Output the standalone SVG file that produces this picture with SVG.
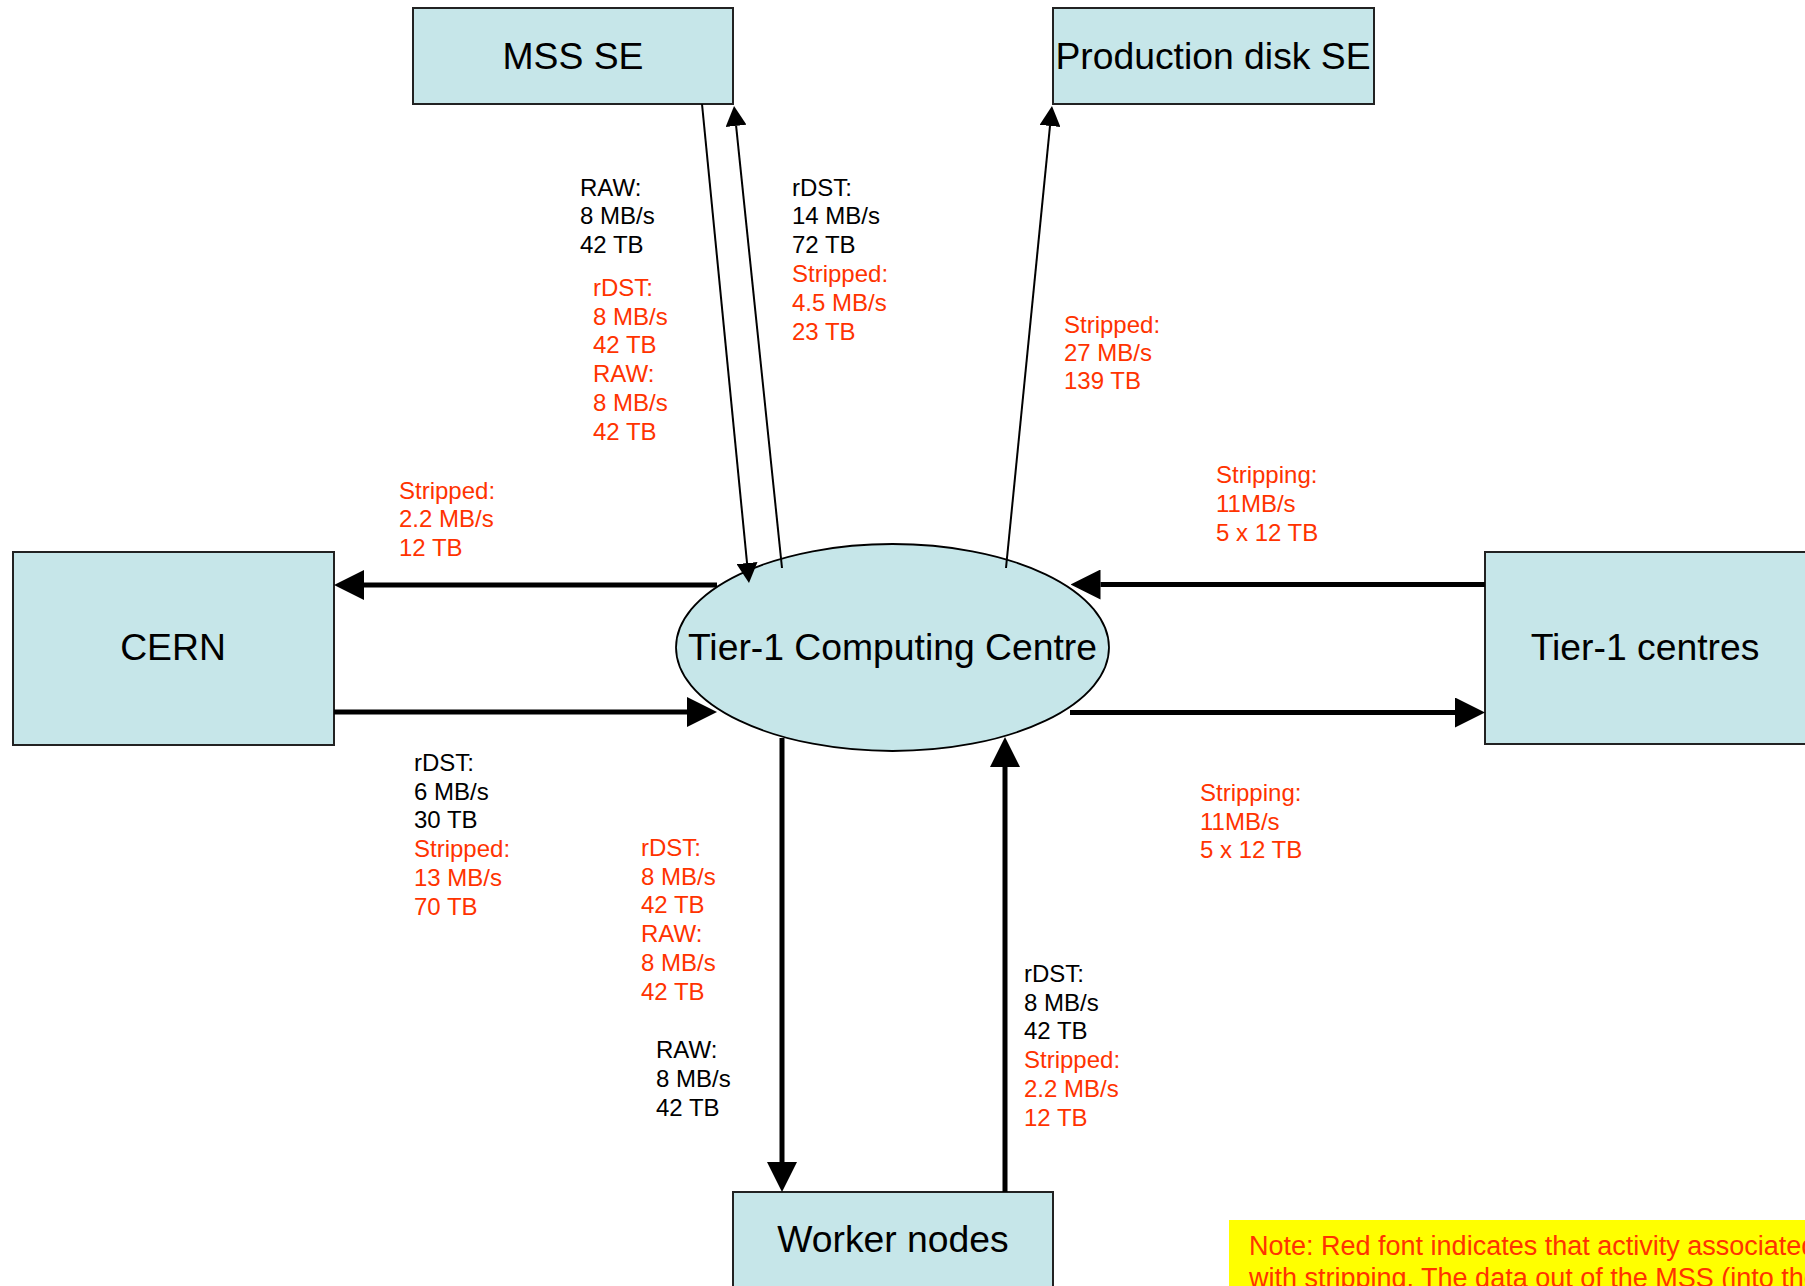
<svg xmlns="http://www.w3.org/2000/svg" width="1805" height="1286" viewBox="0 0 1805 1286">
  <style>
    .box { fill: #C6E6E9; stroke: #222; stroke-width: 2; }
    .big { font-family: "Liberation Sans", Arial, sans-serif; font-size: 37.3px; fill: #000; text-anchor: middle; }
    .lbl { font-family: "Liberation Sans", Arial, sans-serif; font-size: 24px; }
    .blk { fill: #000; }
    .red { fill: #FF3300; }
    .thick { stroke: #000; stroke-width: 5; fill: none; }
    .thin { stroke: #000; stroke-width: 2; fill: none; }
  </style>
  <defs>
    <marker id="ahThick" viewBox="0 0 30 30" refX="0" refY="15" markerWidth="30" markerHeight="30" markerUnits="userSpaceOnUse" orient="auto">
      <path d="M0,0 L30,15 L0,30 z" fill="#000"/>
    </marker>
    <marker id="ahThin" viewBox="0 0 20 21" refX="0" refY="10.5" markerWidth="20" markerHeight="21" markerUnits="userSpaceOnUse" orient="auto">
      <path d="M0,0 L20,10.5 L0,21 z" fill="#000"/>
    </marker>
  </defs>

  <g id="node-mss">
    <rect class="box" x="413" y="8" width="320" height="96"/>
    <text class="big" x="573" y="68.5">MSS SE</text>
  </g>
  <g id="node-prod">
    <rect class="box" x="1053" y="8" width="321" height="96"/>
    <text class="big" x="1213" y="69">Production disk SE</text>
  </g>
  <g id="node-cern">
    <rect class="box" x="13" y="552" width="321" height="193"/>
    <text class="big" x="173" y="660">CERN</text>
  </g>
  <g id="node-tier1">
    <ellipse cx="892.5" cy="647.5" rx="216.5" ry="103.5" fill="#C6E6E9" stroke="#000" stroke-width="1.8"/>
    <text class="big" x="892.5" y="660">Tier-1 Computing Centre</text>
  </g>
  <g id="node-tier1s">
    <rect class="box" x="1485" y="552" width="330" height="192"/>
    <text class="big" x="1645" y="660">Tier-1 centres</text>
  </g>
  <g id="node-wn">
    <rect class="box" x="733" y="1192" width="320" height="110"/>
    <text class="big" x="893" y="1252">Worker nodes</text>
  </g>
  <g id="note">
    <rect x="1229" y="1220" width="600" height="80" fill="#FFFF00"/>
    <text class="lbl red" x="1249" y="1255" style="font-size:27px">Note: Red font indicates that activity associated</text>
    <text class="lbl red" x="1249" y="1287" style="font-size:27px">with stripping. The data out of the MSS (into the</text>
  </g>

  <g id="connectors">
    <path class="thin" d="M702,104 L747.05,563.1" marker-end="url(#ahThin)"/>
    <path class="thin" d="M782,568 L736.1,125.9" marker-end="url(#ahThin)"/>
    <path class="thin" d="M1006,568 L1050,125.9" marker-end="url(#ahThin)"/>
    <path class="thick" d="M717,585 L364,585" marker-end="url(#ahThick)"/>
    <path class="thick" d="M334,712 L687,712" marker-end="url(#ahThick)"/>
    <path class="thick" d="M1485,584.5 L1100.5,584.5" marker-end="url(#ahThick)"/>
    <path class="thick" d="M1070,712.5 L1455,712.5" marker-end="url(#ahThick)"/>
    <path class="thick" d="M782,738 L782,1162" marker-end="url(#ahThick)"/>
    <path class="thick" d="M1005,1192 L1005,767" marker-end="url(#ahThick)"/>
  </g>

  <g id="labels">
    <text class="lbl blk" x="580" y="195.5">RAW:</text>
    <text class="lbl blk" x="580" y="224.3">8 MB/s</text>
    <text class="lbl blk" x="580" y="253.1">42 TB</text>

    <text class="lbl red" x="593" y="295.7">rDST:</text>
    <text class="lbl red" x="593" y="324.5">8 MB/s</text>
    <text class="lbl red" x="593" y="353.3">42 TB</text>
    <text class="lbl red" x="593" y="382.1">RAW:</text>
    <text class="lbl red" x="593" y="410.9">8 MB/s</text>
    <text class="lbl red" x="593" y="439.7">42 TB</text>

    <text class="lbl blk" x="792" y="195.5">rDST:</text>
    <text class="lbl blk" x="792" y="224.3">14 MB/s</text>
    <text class="lbl blk" x="792" y="253.1">72 TB</text>
    <text class="lbl red" x="792" y="281.9">Stripped:</text>
    <text class="lbl red" x="792" y="310.7">4.5 MB/s</text>
    <text class="lbl red" x="792" y="339.5">23 TB</text>

    <text class="lbl red" x="1064" y="332.7">Stripped:</text>
    <text class="lbl red" x="1064" y="361">27 MB/s</text>
    <text class="lbl red" x="1064" y="389.3">139 TB</text>

    <text class="lbl red" x="399" y="498.5">Stripped:</text>
    <text class="lbl red" x="399" y="527.3">2.2 MB/s</text>
    <text class="lbl red" x="399" y="556.1">12 TB</text>

    <text class="lbl red" x="1216" y="483">Stripping:</text>
    <text class="lbl red" x="1216" y="511.8">11MB/s</text>
    <text class="lbl red" x="1216" y="540.6">5 x 12 TB</text>

    <text class="lbl red" x="1200" y="800.7">Stripping:</text>
    <text class="lbl red" x="1200" y="829.5">11MB/s</text>
    <text class="lbl red" x="1200" y="858.3">5 x 12 TB</text>

    <text class="lbl blk" x="414" y="770.7">rDST:</text>
    <text class="lbl blk" x="414" y="799.5">6 MB/s</text>
    <text class="lbl blk" x="414" y="828.3">30 TB</text>
    <text class="lbl red" x="414" y="857.1">Stripped:</text>
    <text class="lbl red" x="414" y="885.9">13 MB/s</text>
    <text class="lbl red" x="414" y="914.7">70 TB</text>

    <text class="lbl red" x="641" y="855.7">rDST:</text>
    <text class="lbl red" x="641" y="884.5">8 MB/s</text>
    <text class="lbl red" x="641" y="913.3">42 TB</text>
    <text class="lbl red" x="641" y="942.1">RAW:</text>
    <text class="lbl red" x="641" y="970.9">8 MB/s</text>
    <text class="lbl red" x="641" y="999.7">42 TB</text>

    <text class="lbl blk" x="656" y="1058.3">RAW:</text>
    <text class="lbl blk" x="656" y="1087.1">8 MB/s</text>
    <text class="lbl blk" x="656" y="1115.9">42 TB</text>

    <text class="lbl blk" x="1024" y="981.7">rDST:</text>
    <text class="lbl blk" x="1024" y="1010.5">8 MB/s</text>
    <text class="lbl blk" x="1024" y="1039.3">42 TB</text>
    <text class="lbl red" x="1024" y="1068.1">Stripped:</text>
    <text class="lbl red" x="1024" y="1096.9">2.2 MB/s</text>
    <text class="lbl red" x="1024" y="1125.7">12 TB</text>
  </g>
</svg>
